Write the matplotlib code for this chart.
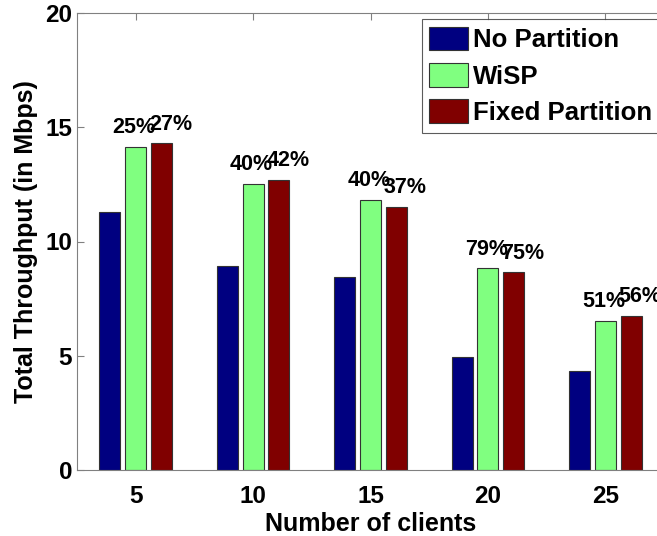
import matplotlib
matplotlib.use("Agg")
import matplotlib.pyplot as plt
import numpy as np

clients = ["5", "10", "15", "20", "25"]
no_partition = [11.3, 8.93, 8.43, 4.93, 4.35]
wisp = [14.15, 12.52, 11.82, 8.83, 6.54]
fixed_partition = [14.3, 12.7, 11.52, 8.65, 6.74]
wisp_gain = ["25%", "40%", "40%", "79%", "51%"]
fixed_gain = ["27%", "42%", "37%", "75%", "56%"]
series_names = ["No Partition", "WiSP", "Fixed Partition"]
colors = ["#000080", "#80FF80", "#800000"]

plt.rcParams['font.family'] = ['Liberation Sans', 'DejaVu Sans']
plt.rcParams['font.weight'] = 'bold'

fig = plt.figure(figsize=(6.57, 5.36), dpi=100)
ax = fig.add_axes([77/657, 1-470/536, 587/657, 457/536])

x = np.arange(1, len(clients) + 1)
w = 0.18
off = 0.22
for i, (vals, c, name) in enumerate(zip([no_partition, wisp, fixed_partition], colors, series_names)):
    ax.bar(x + (i - 1) * off, vals, width=w, color=c, edgecolor="#333333", linewidth=0.8, label=name)

dy = 13.5 / 22.85
for xi, v, t in zip(x, wisp, wisp_gain):
    ax.text(xi - 0.015, v + dy, t, ha='center', va='baseline', fontsize=15.5, fontweight='bold')
for xi, v, t in zip(x, fixed_partition, fixed_gain):
    ax.text(xi + off + 0.075, v + dy, t, ha='center', va='baseline', fontsize=15.5, fontweight='bold')

ax.set_xlim(0.5, 5.5)
ax.set_ylim(0, 20)
ax.set_xticks(x)
ax.set_xticklabels(clients)
ax.set_yticks([0, 5, 10, 15, 20])
ax.tick_params(direction='in', length=5, width=0.8, color='#808080', labelsize=17.5,
               top=True, right=True)
ax.tick_params(axis='x', pad=11)
ax.tick_params(axis='y', pad=3.5)
for lab in ax.get_xticklabels() + ax.get_yticklabels():
    lab.set_fontweight('bold')
for s in ax.spines.values():
    s.set_color('#808080')
    s.set_linewidth(0.8)
ax.set_axisbelow(True)

ax.set_xlabel("Number of clients", fontsize=18, fontweight='bold', labelpad=3)
ax.set_ylabel("Total Throughput (in Mbps)", fontsize=18, fontweight='bold', labelpad=5)

leg = ax.legend(loc='upper left', bbox_to_anchor=(421.7/657, 1-19.3/536),
                bbox_transform=fig.transFigure, fontsize=18.5, frameon=True,
                fancybox=False, borderaxespad=0, borderpad=0.3,
                handlelength=1.5, handleheight=1.02, handletextpad=0.18,
                labelspacing=0.42)
leg.get_frame().set_edgecolor('#333333')
leg.get_frame().set_linewidth(0.8)
for t in leg.get_texts():
    t.set_fontweight('bold')

fig.savefig("out.png", dpi=100)
